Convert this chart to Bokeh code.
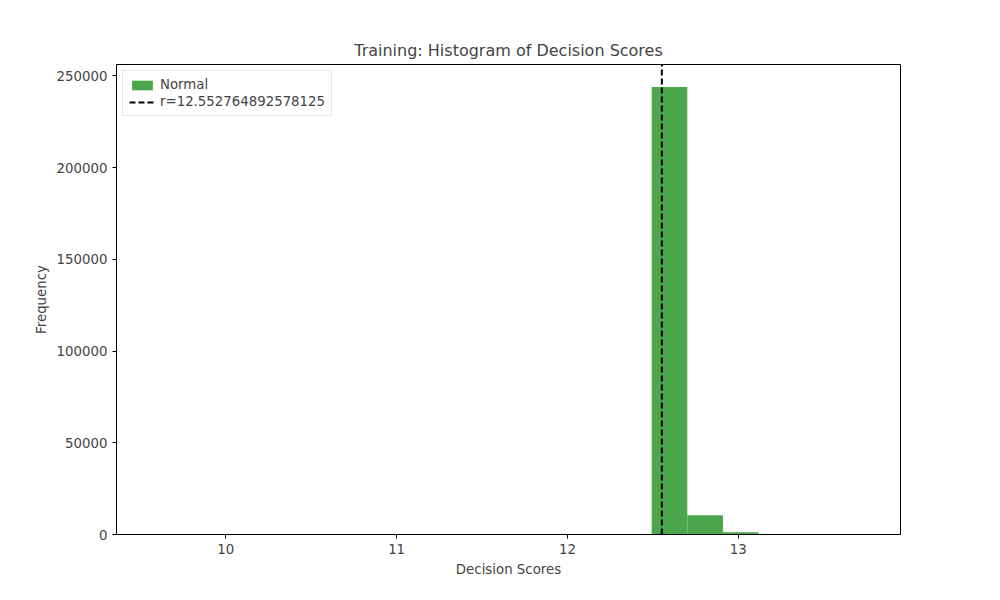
from bokeh.plotting import figure
from bokeh.models import Range1d, Span, Legend, LegendItem, SingleIntervalTicker
from bokeh.embed import file_html
from bokeh.resources import INLINE

# histogram data (20 bins)
bin_lo = 9.5728
bin_w = 0.2086
counts = [0] * 14 + [244000, 10500, 1200, 0, 0, 0]
threshold = 12.552764892578125

left = [bin_lo + i * bin_w for i in range(len(counts))]
right = [l + bin_w for l in left]
bottom = [0] * len(counts)

p = figure(width=984, height=584, output_backend="svg", toolbar_location=None,
           x_range=Range1d(9.36, 13.95), y_range=Range1d(0, 256200),
           title="Training: Histogram of Decision Scores",
           min_border_left=116, min_border_right=84, min_border_top=64, min_border_bottom=50)
p.title.align = "center"
p.title.text_font = "DejaVu Sans"
p.title.text_font_size = "12pt"
p.title.text_font_style = "normal"
p.xgrid.visible = False
p.ygrid.visible = False
p.outline_line_color = "black"
p.xaxis.axis_label = "Decision Scores"
p.yaxis.axis_label = "Frequency"
p.xaxis.ticker = SingleIntervalTicker(interval=1)
p.yaxis.ticker = SingleIntervalTicker(interval=50000)
p.yaxis.formatter.use_scientific = False
for ax in (p.xaxis, p.yaxis):
    ax.axis_label_text_font = "DejaVu Sans"
    ax.axis_label_text_font_size = "10pt"
    ax.axis_label_text_font_style = "normal"
    ax.major_label_text_font = "DejaVu Sans"
    ax.major_label_text_font_size = "10pt"
    ax.minor_tick_line_color = None
    ax.major_tick_out = 4
    ax.major_tick_in = 0
p.yaxis.major_label_orientation = "horizontal"

bars = p.quad(left=left, right=right, bottom=bottom, top=counts,
              fill_color="#4ca64c", line_color=None)
rline = p.line([threshold, threshold], [0, 300000], line_color="black",
               line_width=2, line_dash="6 3")

legend = Legend(items=[LegendItem(label="Normal", renderers=[bars]),
                       LegendItem(label="r=" + repr(threshold), renderers=[rline])],
                location="top_left", label_text_font="DejaVu Sans",
                label_text_font_size="10pt", border_line_color="#cccccc",
                glyph_height=12, glyph_width=26, spacing=2, padding=6, margin=6)
p.add_layout(legend)

open("out.html", "w").write(file_html(p, INLINE))
